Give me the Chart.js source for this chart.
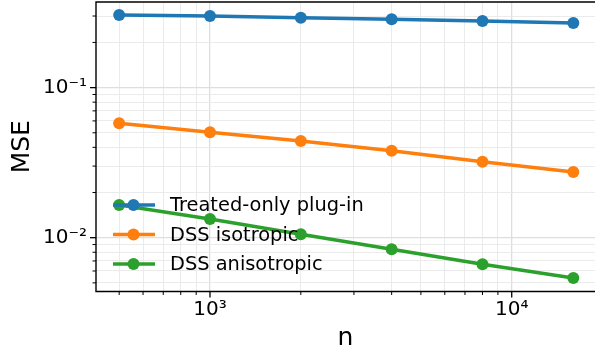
<!DOCTYPE html>
<html>
<head>
<meta charset="utf-8">
<script src="https://cdn.jsdelivr.net/npm/chart.js@4.4.1/dist/chart.umd.min.js"></script>
<style>
  html, body { margin: 0; padding: 0; background: #fff; }
  #wrap { width: 595px; height: 355px; }
</style>
</head>
<body>
<div id="wrap"><canvas id="mseChart"></canvas></div>
<script>
// data
const sampleSizes = [500, 1000, 2000, 4000, 8000, 16000];
const plugInMse = [0.305, 0.300, 0.292, 0.285, 0.278, 0.270];
const dssIsoMse = [0.0579, 0.0504, 0.0441, 0.0379, 0.0321, 0.0274];
const dssAnisoMse = [0.01652, 0.01333, 0.01054, 0.00837, 0.00665, 0.00539];
const seriesLabels = ['Treated-only plug-in', 'DSS isotropic', 'DSS anisotropic'];
const seriesColors = ['#1f77b4', '#ff7f0e', '#2ca02c'];
const xMajorTicks = [1000, 10000];
const xTickLabels = ['10³', '10⁴'];
const yMajorTicks = [0.01, 0.1];
const yTickLabels = ['10⁻²', '10⁻¹'];

const FONT = '"DejaVu Sans", sans-serif';

// don't let the point radius push the plot area in (axes run to the canvas edge)
Chart.LineController.prototype.getMaxOverflow = function () { return 0; };

// 1..9 x 10^k inside [min, max]
function logTicks(min, max) {
    const out = [];
    for (let k = Math.floor(Math.log10(min)); k <= Math.ceil(Math.log10(max)); k++) {
        for (let m = 1; m < 10; m++) {
            const v = m * Math.pow(10, k);
            if (v >= min && v <= max) out.push({ value: v });
        }
    }
    return out;
}

function majorIndex(list, v) {
    return list.findIndex(t => Math.abs(v / t - 1) < 1e-9);
}

const gridColor = (list) => (ctx) => majorIndex(list, ctx.tick.value) >= 0 ? '#dedede' : '#e9e9e9';
const gridWidth = (list) => (ctx) => majorIndex(list, ctx.tick.value) >= 0 ? 1.3 : 0.9;

const toPoints = (ys) => sampleSizes.map((n, i) => ({ x: n, y: ys[i] }));

const lineSet = (label, ys, color) => ({
    label: label,
    data: toPoints(ys),
    borderColor: color,
    backgroundColor: color,
    borderWidth: 3.5,
    pointRadius: 6,
    pointHoverRadius: 6,
    pointBorderWidth: 0,
    tension: 0
});

// axes frame + tick marks drawn like matplotlib
const framePlugin = {
    id: 'frame',
    afterDraw(chart) {
        const { ctx, chartArea: a, scales } = chart;
        ctx.save();
        ctx.strokeStyle = '#000';
        ctx.lineWidth = 1.4;
        ctx.beginPath();
        ctx.moveTo(a.right + 2, a.top);
        ctx.lineTo(a.left, a.top);
        ctx.lineTo(a.left, a.bottom);
        ctx.lineTo(a.right + 2, a.bottom);
        ctx.stroke();
        scales.x.ticks.forEach(t => {
            const px = scales.x.getPixelForValue(t.value);
            const major = majorIndex(xMajorTicks, t.value) >= 0;
            ctx.lineWidth = major ? 1.3 : 1;
            ctx.beginPath();
            ctx.moveTo(px, a.bottom);
            ctx.lineTo(px, a.bottom + (major ? 6 : 3.5));
            ctx.stroke();
        });
        scales.y.ticks.forEach(t => {
            const py = scales.y.getPixelForValue(t.value);
            const major = majorIndex(yMajorTicks, t.value) >= 0;
            ctx.lineWidth = major ? 1.3 : 1;
            ctx.beginPath();
            ctx.moveTo(a.left, py);
            ctx.lineTo(a.left - (major ? 6 : 3.5), py);
            ctx.stroke();
        });
        ctx.restore();
    }
};

// legend inside the axes, lower left, no box
const legendPlugin = {
    id: 'innerLegend',
    afterDatasetsDraw(chart) {
        const { ctx, chartArea: a } = chart;
        ctx.save();
        ctx.font = '19.4px ' + FONT;
        ctx.textBaseline = 'middle';
        chart.data.datasets.forEach((ds, i) => {
            const y = a.bottom - 86.5 + i * 29.5;
            const x0 = a.left + 17;
            ctx.strokeStyle = ds.borderColor;
            ctx.lineWidth = 3.5;
            ctx.beginPath();
            ctx.moveTo(x0, y);
            ctx.lineTo(x0 + 42, y);
            ctx.stroke();
            ctx.fillStyle = ds.borderColor;
            ctx.beginPath();
            ctx.arc(x0 + 20.5, y, 6, 0, Math.PI * 2);
            ctx.fill();
            ctx.fillStyle = '#000';
            ctx.fillText(ds.label, x0 + 57, y + 1);
        });
        ctx.restore();
    }
};

new Chart(document.getElementById('mseChart').getContext('2d'), {
    type: 'line',
    data: {
        datasets: [
            lineSet(seriesLabels[0], plugInMse, seriesColors[0]),
            lineSet(seriesLabels[1], dssIsoMse, seriesColors[1]),
            lineSet(seriesLabels[2], dssAnisoMse, seriesColors[2])
        ]
    },
    options: {
        responsive: true,
        maintainAspectRatio: false,
        animation: false,
        layout: { padding: { top: 2, right: 0, left: 0, bottom: 0 } },
        plugins: { legend: { display: false }, tooltip: { enabled: false } },
        scales: {
            x: {
                type: 'logarithmic',
                min: 419,
                max: 18880,
                afterBuildTicks: s => { s.ticks = logTicks(s.min, s.max); },
                afterFit: s => { s.height = 63.5; s.paddingLeft = 0; s.paddingRight = 0; },
                border: { display: false },
                grid: { color: gridColor(xMajorTicks), lineWidth: gridWidth(xMajorTicks), drawTicks: false },
                ticks: {
                    autoSkip: false,
                    maxRotation: 0,
                    padding: 6,
                    color: '#000',
                    font: { family: FONT, size: 20 },
                    callback: v => { const i = majorIndex(xMajorTicks, v); return i >= 0 ? xTickLabels[i] : ''; }
                },
                title: {
                    display: true,
                    text: 'n',
                    color: '#000',
                    font: { family: FONT, size: 25 },
                    padding: { top: 0, bottom: 2 }
                }
            },
            y: {
                type: 'logarithmic',
                min: 0.00438,
                max: 0.372,
                afterBuildTicks: s => { s.ticks = logTicks(s.min, s.max); },
                afterFit: s => { s.width = 96; s.paddingTop = 0; s.paddingBottom = 0; },
                border: { display: false },
                grid: { color: gridColor(yMajorTicks), lineWidth: gridWidth(yMajorTicks), drawTicks: false },
                ticks: {
                    autoSkip: false,
                    padding: 9,
                    color: '#000',
                    font: { family: FONT, size: 20 },
                    callback: v => { const i = majorIndex(yMajorTicks, v); return i >= 0 ? yTickLabels[i] : ''; }
                },
                title: {
                    display: true,
                    text: 'MSE',
                    color: '#000',
                    font: { family: FONT, size: 25 },
                    padding: { top: 7, bottom: 0 }
                }
            }
        }
    },
    plugins: [legendPlugin, framePlugin]
});
</script>
</body>
</html>
